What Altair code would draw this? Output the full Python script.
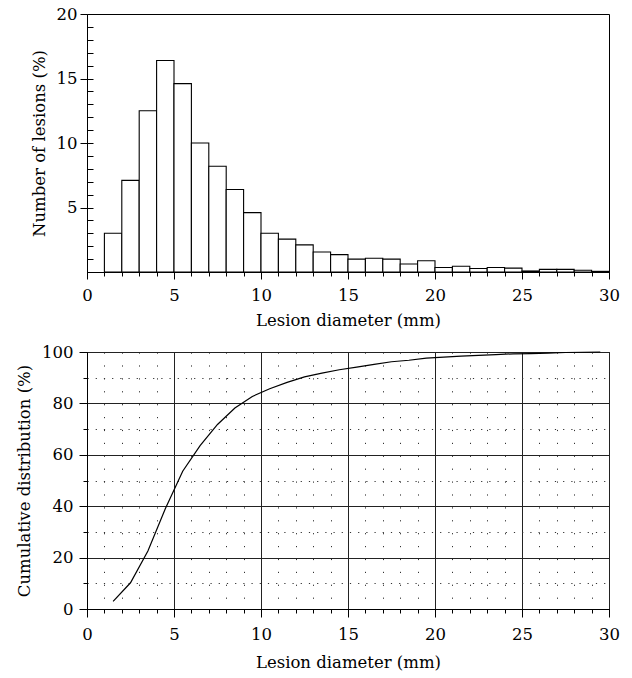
import altair as alt
import pandas as pd

# Histogram: bins of 1 mm from 1 to 30 mm
bin_start = list(range(1, 30))
bin_end = list(range(2, 31))
pct = [3.0, 7.1, 12.5, 16.4, 14.6, 10.0, 8.2, 6.4, 4.6, 3.0,
       2.55, 2.1, 1.55, 1.35, 1.0, 1.07, 1.0, 0.62, 0.87, 0.35,
       0.45, 0.27, 0.35, 0.3, 0.08, 0.2, 0.2, 0.13, 0.05]

# Cumulative distribution read at bin midpoints
cum_x = [1.5, 2.5, 3.5, 4.5, 5.5, 6.5, 7.5, 8.5, 9.5, 10.5,
         11.5, 12.5, 13.5, 14.5, 15.5, 16.5, 17.5, 18.5, 19.5, 20.5,
         21.5, 22.5, 23.5, 24.5, 25.5, 26.5, 27.5, 28.5, 29.5]
cum_y = [3.0, 10.2, 22.6, 39.0, 53.6, 63.6, 71.8, 78.2, 82.7, 85.7,
         88.2, 90.3, 91.8, 93.1, 94.1, 95.2, 96.2, 96.8, 97.6, 98.0,
         98.4, 98.7, 99.0, 99.3, 99.4, 99.6, 99.8, 99.9, 100.0]

x_major = [0, 5, 10, 15, 20, 25, 30]
x_minor = list(range(0, 31))
x_dotted = [v for v in range(1, 30) if v % 5 != 0]
hist_y_major = [5, 10, 15, 20]
hist_y_minor = list(range(1, 20))
cum_y_major = [0, 20, 40, 60, 80, 100]
cum_y_minor = [10, 30, 50, 70, 90]

hist_df = pd.DataFrame({"start": bin_start, "end": bin_end, "pct": pct})
cum_df = pd.DataFrame({"x": cum_x, "y": cum_y})

FONT = "DejaVu Serif"
FS = 16.5
W, H1, H2 = 522, 258, 257

xs = alt.Scale(domain=[0, 30], nice=False)
ys1 = alt.Scale(domain=[0, 20], nice=False)
ys2 = alt.Scale(domain=[0, 100], nice=False)

# ---------- top: histogram ----------
bars = alt.Chart(hist_df).mark_rect(fill="white", stroke="black", strokeWidth=1.1).encode(
    x=alt.X("start:Q", scale=xs,
            axis=alt.Axis(values=x_major, tickSize=7, title="Lesion diameter (mm)",
                          grid=False, orient="bottom", offset=0, labelPadding=8,
                          titlePadding=9, format="d")),
    x2="end:Q",
    y=alt.Y("pct:Q", scale=ys1,
            axis=alt.Axis(values=hist_y_major, tickSize=7, title="Number of lesions (%)",
                          grid=False, orient="left", offset=0, labelPadding=3,
                          titlePadding=9, format="d")),
    y2=alt.datum(0),
)
hist_minor = alt.Chart(hist_df).mark_rect(opacity=0).encode(
    x=alt.X("start:Q", scale=xs,
            axis=alt.Axis(values=x_minor, tickSize=4, labels=False, domain=False,
                          title="", grid=False, orient="bottom", offset=0)),
    x2="end:Q",
    y=alt.Y("pct:Q", scale=ys1,
            axis=alt.Axis(values=hist_y_minor, tickSize=6, labels=False, domain=False,
                          title="", grid=False, orient="left", offset=-6)),
    y2=alt.datum(0),
)
top = alt.layer(hist_minor, bars).resolve_axis(x="independent", y="independent").properties(
    width=W, height=H1)

# ---------- bottom: cumulative ----------
line = alt.Chart(cum_df).mark_line(color="black", strokeWidth=1.2).encode(
    x=alt.X("x:Q", scale=xs,
            axis=alt.Axis(values=x_major, tickSize=8, title="Lesion diameter (mm)",
                          grid=True, gridColor="#222", gridWidth=1, orient="bottom",
                          offset=0, labelPadding=9, titlePadding=12, format="d")),
    y=alt.Y("y:Q", scale=ys2,
            axis=alt.Axis(values=cum_y_major, tickSize=8, title="Cumulative distribution (%)",
                          grid=True, gridColor="#222", gridWidth=1, orient="left",
                          offset=0, labelPadding=6, titlePadding=9, format="d")),
)
cum_minor = alt.Chart(cum_df).mark_line(opacity=0).encode(
    x=alt.X("x:Q", scale=xs,
            axis=alt.Axis(values=x_minor, tickSize=4, labels=False, domain=False,
                          title="", grid=False, orient="bottom", offset=0)),
    y=alt.Y("y:Q", scale=ys2,
            axis=alt.Axis(values=cum_y_minor, tickSize=4, labels=False, domain=False,
                          title="", grid=True, gridColor="#333", gridWidth=1,
                          gridDash=[1.2, 7], orient="left", offset=0)),
)
cum_dots = alt.Chart(cum_df).mark_line(opacity=0).encode(
    x=alt.X("x:Q", scale=xs,
            axis=alt.Axis(values=x_dotted, ticks=False, labels=False, domain=False,
                          title="", grid=True, gridColor="#333", gridWidth=1,
                          gridDash=[1.2, 11.7], orient="bottom", offset=0)),
    y=alt.Y("y:Q", scale=ys2,
            axis=alt.Axis(values=cum_y_minor, ticks=False, labels=False, domain=False,
                          title="", grid=False, orient="left", offset=0)),
)
bottom = alt.layer(cum_dots, cum_minor, line).resolve_axis(
    x="independent", y="independent").properties(width=W, height=H2)

chart = alt.vconcat(top, bottom, spacing=13).properties(
    padding={"left": 16, "top": 5, "right": 8, "bottom": 0}
).configure_view(stroke="black", strokeWidth=1).configure_axis(
    labelFont=FONT, labelFontSize=FS, labelColor="black",
    titleFont=FONT, titleFontSize=FS, titleFontWeight="normal", titleColor="black",
    domainColor="black", tickColor="black", domainWidth=1, tickWidth=1,
    labelFlush=False,
)

chart.save("out.html", embed_options={"renderer": "svg", "actions": False})
